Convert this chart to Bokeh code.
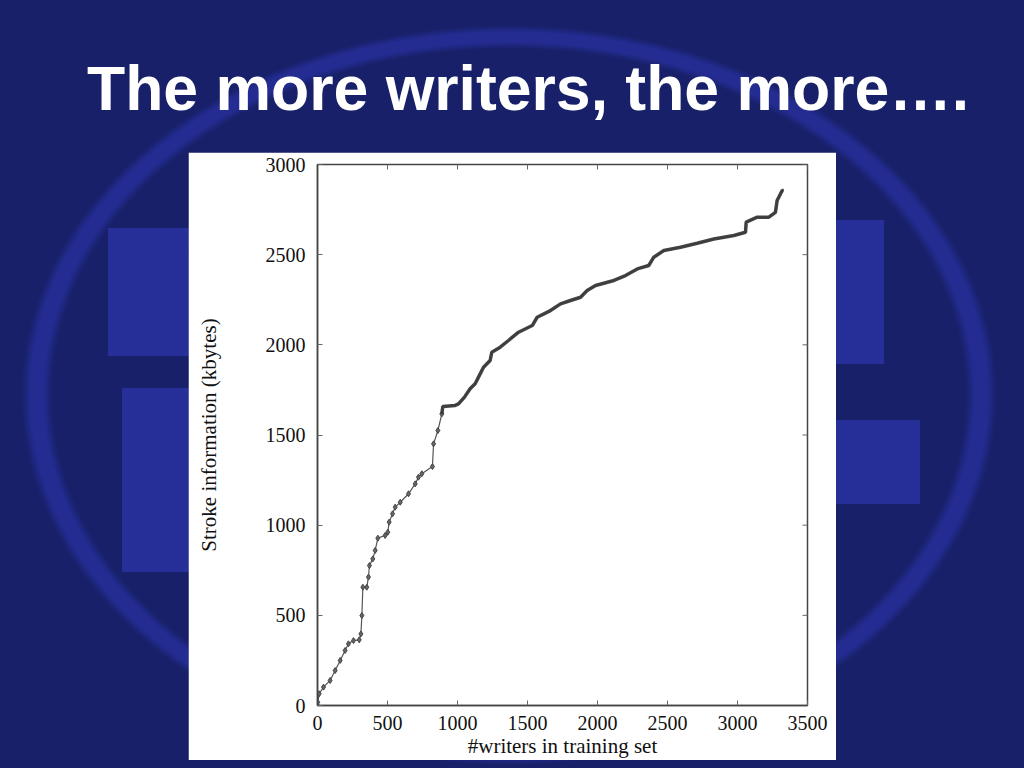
from bokeh.plotting import figure
from bokeh.models import Div, Spacer, FixedTicker
from bokeh.layouts import column, row
from bokeh.embed import file_html
from bokeh.resources import INLINE
import math

# ---- data ----
title_text = "The more writers, the more…."
x_label = "#writers in training set"
y_label = "Stroke information (kbytes)"

writers = [0, 2, 12, 43, 90, 126, 162, 197, 221, 257, 298, 310, 317, 324, 352,
           364, 371, 395, 412, 431, 483, 502, 512, 536, 555, 591, 650, 698, 721,
           745, 821, 829, 860, 888, 895, 983, 1007, 1050, 1090, 1126, 1150, 1186,
           1233, 1245, 1305, 1364, 1436, 1534, 1569, 1664, 1736, 1807, 1879, 1926,
           1986, 2117, 2200, 2284, 2366, 2402, 2474, 2593, 2712, 2831, 2974, 3057,
           3062, 3141, 3224, 3271, 3283, 3319, 3330]
stroke_kb = [0, 18, 65, 102, 139, 194, 250, 305, 342, 360, 364, 397, 499, 656, 656,
             712, 776, 813, 860, 928, 943, 961, 1017, 1063, 1100, 1127, 1174, 1229, 1266,
             1285, 1325, 1451, 1525, 1617, 1658, 1664, 1673, 1710, 1756, 1784, 1821, 1876,
             1913, 1959, 1987, 2024, 2070, 2107, 2153, 2190, 2227, 2246, 2264, 2301,
             2329, 2357, 2384, 2421, 2440, 2486, 2523, 2541, 2563, 2587, 2606, 2624,
             2680, 2708, 2708, 2735, 2800, 2856, 2856]
dense_start = 34  # index from which the curve is drawn as a dense band

x_ticks = [0, 500, 1000, 1500, 2000, 2500, 3000, 3500]
y_ticks = [0, 500, 1000, 1500, 2000, 2500, 3000]
x_max = 3500
y_max = 3000

# ---- chart ----
SERIF = "Liberation Serif"
p = figure(width=648, height=608, x_range=(0, x_max), y_range=(0, y_max),
           output_backend="svg", toolbar_location=None,
           min_border_left=129, min_border_right=29, min_border_top=12,
           min_border_bottom=55)
p.border_fill_color = "white"
p.background_fill_color = "white"
p.outline_line_color = "#444444"
p.outline_line_width = 1.5
p.grid.visible = False

p.line(writers, stroke_kb, line_color="#555555", line_width=1.2)
p.scatter(writers[:dense_start], stroke_kb[:dense_start], marker="diamond",
          size=6, fill_color="#666666", line_color="#444444", line_width=1)
p.line(writers[dense_start - 1:], stroke_kb[dense_start - 1:], line_color="#3a3a3a",
       line_width=3.5, line_alpha=0.95)

# mirrored inward tick marks on the top and right edges of the frame
p.scatter([x_max] * len(y_ticks), y_ticks, marker="dash", size=10,
          line_color="#666666", line_width=1)
p.scatter(x_ticks, [y_max] * len(x_ticks), marker="dash", size=10, angle=math.pi / 2,
          line_color="#666666", line_width=1)

for ax in (p.xaxis[0], p.yaxis[0]):
    ax.major_tick_in = 5
    ax.major_tick_out = 0
    ax.minor_tick_line_color = None
    ax.axis_line_color = "#444444"
    ax.axis_line_width = 1.5
    ax.major_tick_line_color = "#666666"
    ax.major_label_text_font = SERIF
    ax.major_label_text_font_size = "20px"
    ax.major_label_text_color = "#111111"
    ax.axis_label_text_font = SERIF
    ax.axis_label_text_font_size = "21px"
    ax.axis_label_text_font_style = "normal"
    ax.axis_label_text_color = "#111111"

p.xaxis[0].ticker = FixedTicker(ticks=x_ticks)
p.yaxis[0].ticker = FixedTicker(ticks=y_ticks)
p.xaxis[0].axis_label = x_label
p.yaxis[0].axis_label = y_label
p.xaxis[0].major_label_standoff = 10
p.xaxis[0].axis_label_standoff = 1
p.yaxis[0].major_label_standoff = 12
p.yaxis[0].axis_label_standoff = 42

# ---- slide ----
title = Div(
    text=('<div style="padding:52px 0 0 82px; white-space:nowrap; '
          "font-family:'Liberation Sans',Arial,sans-serif; font-weight:bold; "
          'font-size:62.5px; line-height:62px; color:#ffffff;">' + title_text + '</div>'),
    width=1024, height=142)

blob = "linear-gradient(rgba(40,48,158,0.9), rgba(40,48,158,0.9))"
bg = ", ".join([
    blob + " 108px 228px / 82px 128px no-repeat",
    blob + " 122px 388px / 68px 184px no-repeat",
    blob + " 830px 220px / 54px 144px no-repeat",
    blob + " 830px 420px / 90px 84px no-repeat",
    "radial-gradient(ellipse 488px 370px at 509px 395px, rgba(40,48,160,0) 93.5%, "
    "rgba(40,48,160,0.75) 95.5%, rgba(40,48,160,0.75) 98%, rgba(40,48,160,0) 100%)",
    "#172068",
])

layout = column(title, row(Spacer(width=188, height=608), p),
                width=1024, height=768,
                styles={"background": bg})

with open("out.html", "w") as f:
    f.write(file_html(layout, INLINE))
